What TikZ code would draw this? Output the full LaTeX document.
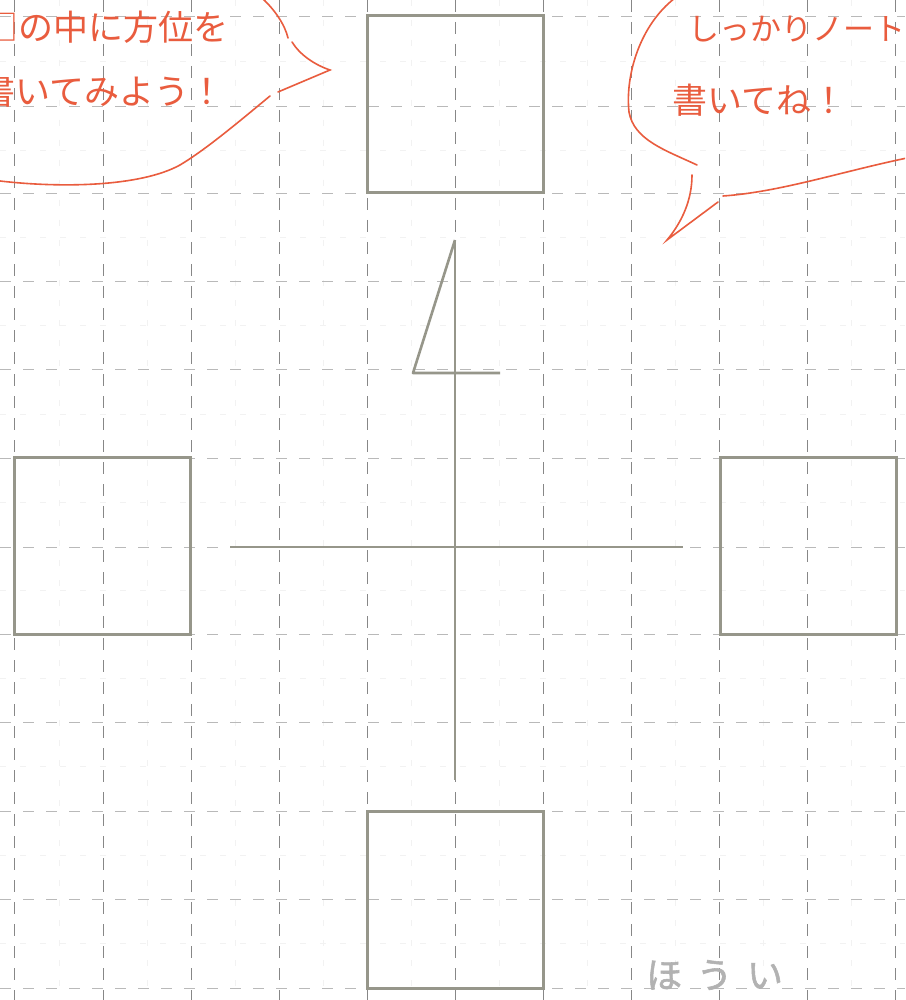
\documentclass[tikz,border=0pt]{standalone}
\usepackage{fontspec}
\newfontfamily\jpfont{Noto Sans CJK JP}
\newfontfamily\jpspaced[LetterSpace=40,FakeBold=1.5]{Noto Sans CJK JP}
\definecolor{pen}{RGB}{233,92,62}
\definecolor{pencil}{RGB}{150,150,138}
\definecolor{gridc}{RGB}{135,135,135}
\definecolor{faint}{RGB}{185,185,185}
\tikzset{
  majorv/.style={draw=gridc, line width=0.8pt, dash pattern=on 12pt off 10pt},
  majorh/.style={draw=faint, line width=0.7pt, dash pattern=on 11pt off 12pt},
  minorl/.style={draw=gray!10, line width=0.6pt, dash pattern=on 6pt off 14pt},
  dirbox/.style={draw=pencil, line width=3pt, minimum width=176pt, minimum height=177pt, inner sep=0pt},
  crossl/.style={draw=pencil, line width=2pt},
  bubble/.style={draw=pen, line width=1.6pt, line cap=round},
  pentext/.style={text=pen, font=\jpfont\fontsize{35}{38}\selectfont, inner sep=0pt},
  pensmall/.style={text=pen, font=\jpfont\fontsize{31}{34}\selectfont, inner sep=0pt},
  graytext/.style={text=gray!60, font=\jpspaced\fontsize{36}{40}\selectfont, inner sep=0pt}
}
\begin{document}
\begin{tikzpicture}[x=1pt,y=-1pt]
\useasboundingbox (0,0) rectangle (905,1000);
\clip (0,0) rectangle (905,1000);
\fill[white] (0,0) rectangle (905,1000);
% minor grid
\foreach \x in {59,147,235,323,411,499,587,675,763,851}
  \draw[minorl] (\x,0) -- (\x,1000);
\foreach \y in {61,150,237,325,414,502,590,678,766,855,943}
  \draw[minorl] (0,\y) -- (905,\y);
% major grid
\foreach \y in {16,106,193,281,369,458,547,634,722,811,899,988}
  \draw[majorh] (0,\y) -- (905,\y);
\foreach \x in {14,103,191,279,367,455,543,631,719,807,895}
  \draw[majorv] (\x,0) -- (\x,1000);
% boxes
\node[dirbox] (north) at (455,104.5) {};
\node[dirbox] (west) at (102,545.5) {};
\node[dirbox] (east) at (808,546) {};
\node[dirbox] (south) at (455,899.5) {};
% cross
\coordinate (cw) at (230,547);
\coordinate (ce) at (683,547);
\coordinate (cn) at (455,240);
\coordinate (cs) at (455,780);
\draw[crossl] (cw) -- (ce);
\draw[crossl] (cn) -- (cs);
% north mark
\coordinate (nfoot) at (413,373);
\coordinate (nend) at (500,373);
\draw[crossl, line width=2.6pt, line join=round] (cn) -- (nfoot) -- (nend);
% left bubble
\coordinate (la1) at (262,-2);
\coordinate (la2) at (288,38);
\coordinate (lb1) at (292,42);
\coordinate (lb2) at (330,70);
\coordinate (lb3) at (278,92);
\coordinate (lc1) at (270,96);
\coordinate (lc2) at (0,181);
\draw[bubble] (la1) .. controls (275,10) and (285,25) .. (la2);
\draw[bubble] (lb1) .. controls (300,55) and (315,65) .. (lb2) -- (lb3);
\draw[bubble] (lc1) .. controls (235,125) and (205,150) .. (180,165) .. controls (140,187) and (60,188) .. (lc2);
\node[pentext, anchor=west] (l1) at (-17,27) {□の中に方位を};
\node[pentext, anchor=west] (l2) at (-20,91) {書いてみよう！};
% right bubble
\coordinate (ra1) at (675,-2);
\coordinate (ra2) at (697,165);
\coordinate (rb1) at (692,175);
\coordinate (rb2) at (667,240);
\coordinate (rb3) at (718,202);
\coordinate (rc1) at (723,196);
\coordinate (rc2) at (907,158);
\draw[bubble] (ra1) .. controls (640,25) and (625,75) .. (629,112) .. controls (634,140) and (665,150) .. (ra2);
\draw[bubble] (rb1) .. controls (692,200) and (682,222) .. (rb2) -- (rb3);
\draw[bubble] (rc1) .. controls (780,192) and (840,172) .. (rc2);
\node[pensmall, anchor=west] (r1) at (688,29) {しっかりノートに};
\node[pentext, anchor=west] (r2) at (672,100) {書いてね！};
% bottom label
\node[graytext, anchor=west] (hoi) at (646,975) {ほうい};
\end{tikzpicture}
\end{document}
